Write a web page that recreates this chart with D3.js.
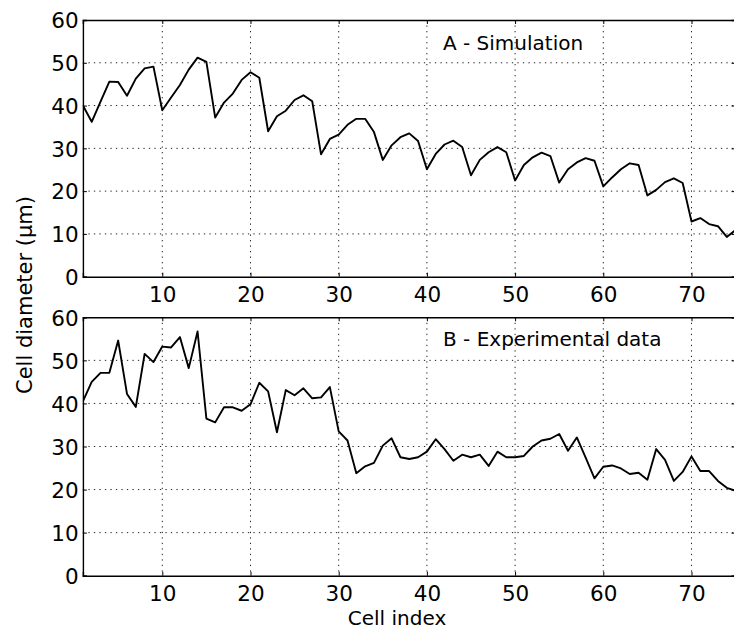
<!DOCTYPE html>
<html>
<head>
<meta charset="utf-8">
<script src="https://cdn.jsdelivr.net/npm/d3@7"></script>
<style>
  html, body { margin: 0; padding: 0; background: #fff; }
  svg text { font-family: "DejaVu Sans", sans-serif; fill: #000; }
</style>
</head>
<body>
<svg id="chart" width="734" height="631"></svg>
<script>
// ---- data ----
const cellIndex = d3.range(1, 76);
const simulation = [
  40.0, 36.2, 40.9, 45.6, 45.5, 42.3, 46.3, 48.7, 49.1, 38.9,
  41.9, 44.8, 48.4, 51.2, 50.2, 37.2, 40.7, 42.8, 46.0, 47.8,
  46.5, 34.0, 37.5, 38.8, 41.3, 42.4, 41.0, 28.6, 32.2, 33.2,
  35.5, 36.9, 36.9, 33.8, 27.3, 30.7, 32.6, 33.5, 31.7, 25.1,
  28.7, 30.9, 31.8, 30.3, 23.7, 27.3, 29.1, 30.3, 29.1, 22.5,
  26.1, 27.9, 29.0, 28.2, 22.0, 25.1, 26.7, 27.7, 27.1, 21.1,
  23.2, 25.1, 26.5, 26.1, 19.0, 20.3, 22.1, 23.0, 21.9, 12.9,
  13.7, 12.3, 11.8, 9.3, 10.9
];
const experimental = [
  40.5, 45.0, 47.1, 47.1, 54.6, 42.2, 39.2, 51.5, 49.6, 53.2,
  53.0, 55.4, 48.2, 56.7, 36.5, 35.6, 39.1, 39.1, 38.3, 39.8,
  44.8, 42.8, 33.3, 43.1, 41.9, 43.5, 41.2, 41.4, 43.8, 33.5,
  31.4, 23.8, 25.4, 26.2, 30.2, 31.9, 27.5, 27.1, 27.5, 28.8,
  31.7, 29.4, 26.7, 28.1, 27.5, 28.1, 25.5, 28.8, 27.5, 27.5,
  27.8, 30.0, 31.4, 31.8, 32.9, 29.0, 32.1, 27.4, 22.6, 25.3,
  25.6, 24.9, 23.6, 23.9, 22.3, 29.4, 26.9, 22.0, 24.1, 27.7,
  24.3, 24.3, 22.0, 20.4, 19.7
];
const xTicks = [10, 20, 30, 40, 50, 60, 70];
const yTicks = [0, 10, 20, 30, 40, 50, 60];
const panelLabels = ["A - Simulation", "B - Experimental data"];
const xLabel = "Cell index";
const yLabel = "Cell diameter (µm)";

// ---- layout ----
const svg = d3.select("#chart");
const left = 82.9, right = 735.6;
const panels = [
  { top: 20, bottom: 276.7, values: simulation, label: panelLabels[0], labelY: 50 },
  { top: 317.3, bottom: 575.7, values: experimental, label: panelLabels[1], labelY: 345.5 }
];
const x = d3.scaleLinear().domain([1, 75]).range([left, right]);

panels.forEach((p, pi) => {
  const y = d3.scaleLinear().domain([0, 60]).range([p.bottom, p.top]);
  const g = svg.append("g");
  const clipId = "clip" + pi;
  svg.append("clipPath").attr("id", clipId)
    .append("rect").attr("x", left).attr("y", p.top)
    .attr("width", right - left).attr("height", p.bottom - p.top);

  // grid
  g.append("g").selectAll("line").data(xTicks).join("line")
    .attr("x1", d => x(d)).attr("x2", d => x(d))
    .attr("y1", p.top).attr("y2", p.bottom)
    .attr("stroke", "#222").attr("stroke-width", 1)
    .attr("stroke-dasharray", "1.3,4.2");
  g.append("g").selectAll("line").data(yTicks.slice(1, -1)).join("line")
    .attr("x1", left).attr("x2", right)
    .attr("y1", d => y(d)).attr("y2", d => y(d))
    .attr("stroke", "#222").attr("stroke-width", 1)
    .attr("stroke-dasharray", "1.3,4.2");

  // data line
  const line = d3.line().x((d, i) => x(cellIndex[i])).y(d => y(d));
  g.append("path").datum(p.values)
    .attr("clip-path", `url(#${clipId})`)
    .attr("fill", "none").attr("stroke", "#000")
    .attr("stroke-width", 1.9).attr("stroke-linejoin", "round")
    .attr("d", line);

  // axes (ticks inward)
  const axB = g.append("g").attr("transform", `translate(0,${p.bottom})`)
    .call(d3.axisBottom(x).tickValues(xTicks).tickSize(-4).tickPadding(8).tickFormat(d3.format("d")));
  const axT = g.append("g").attr("transform", `translate(0,${p.top})`)
    .call(d3.axisTop(x).tickValues(xTicks).tickSize(-4).tickFormat(""));
  const axL = g.append("g").attr("transform", `translate(${left},0)`)
    .call(d3.axisLeft(y).tickValues(yTicks).tickSize(-4).tickPadding(8).tickFormat(d3.format("d")));
  const axR = g.append("g").attr("transform", `translate(${right},0)`)
    .call(d3.axisRight(y).tickValues(yTicks).tickSize(-4).tickFormat(""));
  [axB, axT, axL, axR].forEach(a => {
    a.select(".domain").attr("stroke", "#000").attr("stroke-width", 1.4);
    a.selectAll(".tick line").attr("stroke", "#000").attr("stroke-width", 1);
    a.selectAll("text").attr("font-size", 21.5).attr("font-family", "DejaVu Sans").attr("fill", "#000");
  });
  axB.selectAll(".tick text").attr("dy", null).attr("y", 25.5);
  axL.selectAll(".tick text").attr("x", -4.2).attr("dy", "0.36em");

  // panel annotation
  svg.append("text").attr("x", 443).attr("y", p.labelY)
    .attr("font-size", 20).text(p.label);
});

// axis labels
svg.append("text").attr("x", 397).attr("y", 625)
  .attr("text-anchor", "middle").attr("font-size", 20).text(xLabel);
svg.append("text")
  .attr("transform", "translate(32,295) rotate(-90)")
  .attr("text-anchor", "middle").attr("font-size", 21).text(yLabel);
</script>
</body>
</html>
